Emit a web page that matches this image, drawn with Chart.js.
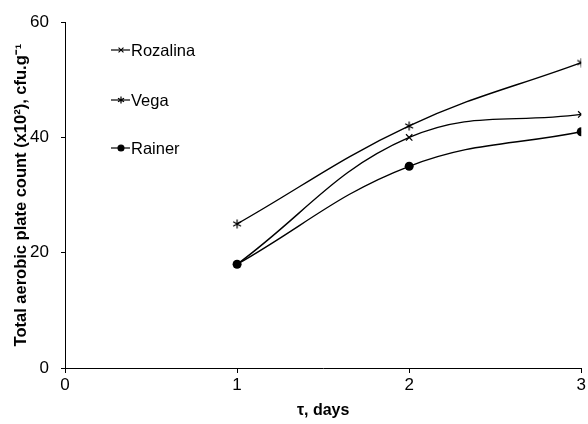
<!DOCTYPE html>
<html>
<head>
<meta charset="utf-8">
<script src="https://cdn.jsdelivr.net/npm/chart.js@4/dist/chart.umd.min.js"></script>
<style>
  html, body { margin: 0; padding: 0; background: #fff; }
  #wrap { width: 588px; height: 424px; }
</style>
</head>
<body>
<div id="wrap"><canvas id="c" width="588" height="424"></canvas></div>
<script>
// Storage time, days
const days = [1, 2, 3];
// Total aerobic plate count (x10^2), cfu/g
const rozalina = [18, 40, 44];
const vega = [25, 42, 53];
const rainer = [18, 35, 41];
const seriesNames = ['Rozalina', 'Vega', 'Rainer'];
const xTicks = [0, 1, 2, 3];
const yTicks = [0, 20, 40, 60];

const FONT = '"Liberation Sans", Arial, sans-serif';

// Six-spoke asterisk marker
function asteriskMarker(size) {
  const c = document.createElement('canvas');
  c.width = size; c.height = size;
  const g = c.getContext('2d');
  const m = size / 2, r = size / 2 - 0.5;
  g.strokeStyle = '#000';
  g.lineWidth = 1.2;
  g.beginPath();
  for (let k = 0; k < 3; k++) {
    const a = Math.PI / 2 + k * Math.PI / 3;
    g.moveTo(m + r * Math.cos(a), m + r * Math.sin(a));
    g.lineTo(m - r * Math.cos(a), m - r * Math.sin(a));
  }
  g.stroke();
  return c;
}
const starImg = asteriskMarker(10);
const starSmall = asteriskMarker(8);

function pts(vals) { return days.map((d, i) => ({ x: d, y: vals[i] })); }

const datasets = [
  { label: seriesNames[0], data: pts(rozalina), pointStyle: 'crossRot', pointRadius: 4.5, pointBorderWidth: 1.2,
    pointBorderColor: '#000', pointBackgroundColor: '#000', legendStyle: 'crossRot', legendRadius: 3.5 },
  { label: seriesNames[1], data: pts(vega), pointStyle: starImg, pointRadius: 5, legendStyle: starSmall, legendRadius: 4 },
  { label: seriesNames[2], data: pts(rainer), pointStyle: 'circle', pointRadius: 4.5, pointBorderWidth: 0,
    pointBorderColor: '#000', pointBackgroundColor: '#000', legendStyle: 'circle', legendRadius: 3 }
].map(d => Object.assign({
  borderColor: '#000', borderWidth: 1.4, tension: 0.4, fill: false, showLine: true
}, d));

// Legend drawn inside the plot area, top-left
const insideLegend = {
  id: 'insideLegend',
  afterDraw(chart) {
    const ctx = chart.ctx;
    const rows = [50, 100, 148];
    ctx.save();
    chart.data.datasets.forEach((ds, i) => {
      const y = rows[i];
      ctx.strokeStyle = '#000';
      ctx.lineWidth = 1.2;
      ctx.beginPath();
      ctx.moveTo(111, y); ctx.lineTo(130, y);
      ctx.stroke();
      ctx.fillStyle = '#000';
      ctx.strokeStyle = '#000';
      ctx.lineWidth = 1.1;
      Chart.helpers.drawPoint(ctx, { pointStyle: ds.legendStyle, radius: ds.legendRadius, borderWidth: 1.1 }, 121, y);
      ctx.fillStyle = '#000';
      ctx.font = '16.5px ' + FONT;
      ctx.textBaseline = 'middle';
      ctx.textAlign = 'left';
      ctx.fillText(ds.label, 131, y + 1);
    });
    ctx.restore();
  }
};

new Chart(document.getElementById('c'), {
  type: 'scatter',
  data: { datasets },
  plugins: [insideLegend],
  options: {
    responsive: false,
    animation: false,
    devicePixelRatio: 1,
    layout: { padding: { top: 16, right: 0, left: 0, bottom: 0 } },
    plugins: { legend: { display: false }, tooltip: { enabled: false } },
    scales: {
      x: {
        type: 'linear', min: 0, max: 3,
        afterBuildTicks(s) { s.ticks = xTicks.map(v => ({ value: v })); },
        afterFit(s) { s.height = 56; },
        border: { display: true, color: '#000', width: 1 },
        grid: { display: true, drawOnChartArea: false, drawTicks: true, tickLength: 5, color: '#000' },
        ticks: { color: '#000', font: { family: FONT, size: 17 }, padding: 2, maxRotation: 0 },
        title: { display: true, text: 'τ, days', color: '#000', font: { family: FONT, size: 16, weight: 'bold' }, padding: { top: 2 } }
      },
      y: {
        type: 'linear', min: 0, max: 60,
        afterBuildTicks(s) { s.ticks = yTicks.map(v => ({ value: v })); },
        afterFit(s) { s.width = 65; },
        border: { display: true, color: '#000', width: 1 },
        grid: { display: true, drawOnChartArea: false, drawTicks: true, tickLength: 4, color: '#000' },
        ticks: { color: '#000', font: { family: FONT, size: 17 }, padding: 12 },
        title: { display: true, text: 'Total aerobic plate count (x10²), cfu.g⁻¹', color: '#000',
                 font: { family: FONT, size: 16.5, weight: 'bold' }, padding: { top: 12, bottom: 0 } }
      }
    }
  }
});
</script>
</body>
</html>
